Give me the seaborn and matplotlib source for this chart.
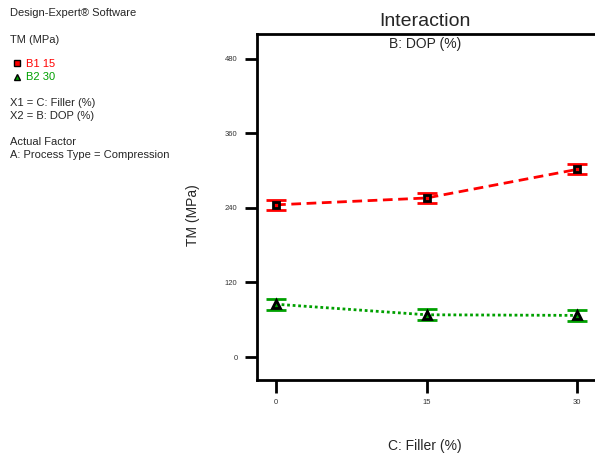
import matplotlib
matplotlib.use("Agg")
import matplotlib.pyplot as plt
import seaborn as sns
import pandas as pd

# Interaction data: TM response over filler level for two DOP levels
filler = [0, 15, 30]
tm_b1 = [245, 256, 302]
tm_b2 = [85, 68, 67]
err_b1 = [8, 8, 8]
err_b2 = [9, 9, 9]
y_ticks = [0, 120, 240, 360, 480]
x_ticks = [0, 15, 30]

sns.set_theme(style="white")
plt.rcParams["font.family"] = ["Liberation Sans", "DejaVu Sans"]

df = pd.DataFrame({
    "filler": filler * 2,
    "tm": tm_b1 + tm_b2,
    "dop": ["B1 15"] * 3 + ["B2 30"] * 3,
})

fig = plt.figure(figsize=(5.95, 4.59), dpi=100)
ax = fig.add_axes([257 / 595, 79 / 459, 338 / 595, 346 / 459])

red = "#ff0000"
green = "#00a000"

ax.errorbar(filler, tm_b1, yerr=err_b1, fmt="none", ecolor=red, elinewidth=2,
            capsize=7, capthick=2, zorder=2)
ax.errorbar(filler, tm_b2, yerr=err_b2, fmt="none", ecolor=green, elinewidth=2,
            capsize=7, capthick=2, zorder=2)

sns.lineplot(data=df[df.dop == "B1 15"], x="filler", y="tm", ax=ax, color=red,
             linestyle=(0, (3.5, 2)), linewidth=2, marker="s", markersize=5,
             markerfacecolor=red, markeredgecolor="black", markeredgewidth=2,
             legend=False, zorder=3)
sns.lineplot(data=df[df.dop == "B2 30"], x="filler", y="tm", ax=ax, color=green,
             linestyle=(0, (1, 1)), linewidth=2, marker="^", markersize=6,
             markerfacecolor=green, markeredgecolor="black", markeredgewidth=2,
             legend=False, zorder=3)

ax.set_xlim(-1.9, 31.8)
ax.set_ylim(-37, 520)
ax.set_xticks(x_ticks)
ax.set_yticks(y_ticks)
ax.tick_params(axis="both", bottom=True, left=True, labelsize=5.5, direction="out",
               length=9, width=2, color="black", labelcolor="#333333", pad=5)
for side in ["left", "bottom", "top"]:
    ax.spines[side].set_visible(True)
    ax.spines[side].set_color("black")
    ax.spines[side].set_linewidth(2)
ax.spines["right"].set_visible(False)
ax.grid(False)

ax.set_xlabel("")
ax.set_ylabel("")
fig.text(425 / 595, 1 - 446 / 459, "C: Filler (%)", fontsize=10, ha="center", va="center")
fig.text(193 / 595, 1 - 215 / 459, "TM (MPa)", fontsize=10, ha="center", va="center",
         rotation=90)
fig.text(425 / 595, 1 - 22 / 459, "Interaction", fontsize=14, ha="center", va="center")
fig.text(425 / 595, 1 - 44 / 459, "B: DOP (%)", fontsize=10, ha="center", va="center")

# Side information panel
fs = 8
x0 = 10 / 595
def yy(py):
    return 1 - py / 459
fig.text(x0, yy(13), "Design-Expert® Software", fontsize=fs, va="center")
fig.text(x0, yy(40), "TM (MPa)", fontsize=fs, va="center")
fig.text(26 / 595, yy(64), "B1 15", fontsize=fs, va="center", color=red)
fig.text(26 / 595, yy(77), "B2 30", fontsize=fs, va="center", color=green)
fig.lines.append(plt.Line2D([17 / 595], [yy(63)], transform=fig.transFigure,
                            marker="s", markersize=4.5, markerfacecolor=red,
                            markeredgecolor="black", markeredgewidth=1, linestyle="none"))
fig.lines.append(plt.Line2D([17 / 595], [yy(77)], transform=fig.transFigure,
                            marker="^", markersize=4.5, markerfacecolor=green,
                            markeredgecolor="black", markeredgewidth=1, linestyle="none"))
fig.text(x0, yy(103), "X1 = C: Filler (%)", fontsize=fs, va="center")
fig.text(x0, yy(116), "X2 = B: DOP (%)", fontsize=fs, va="center")
fig.text(x0, yy(142), "Actual Factor", fontsize=fs, va="center")
fig.text(x0, yy(155), "A: Process Type = Compression", fontsize=fs, va="center")

fig.savefig("out.png", dpi=100)
